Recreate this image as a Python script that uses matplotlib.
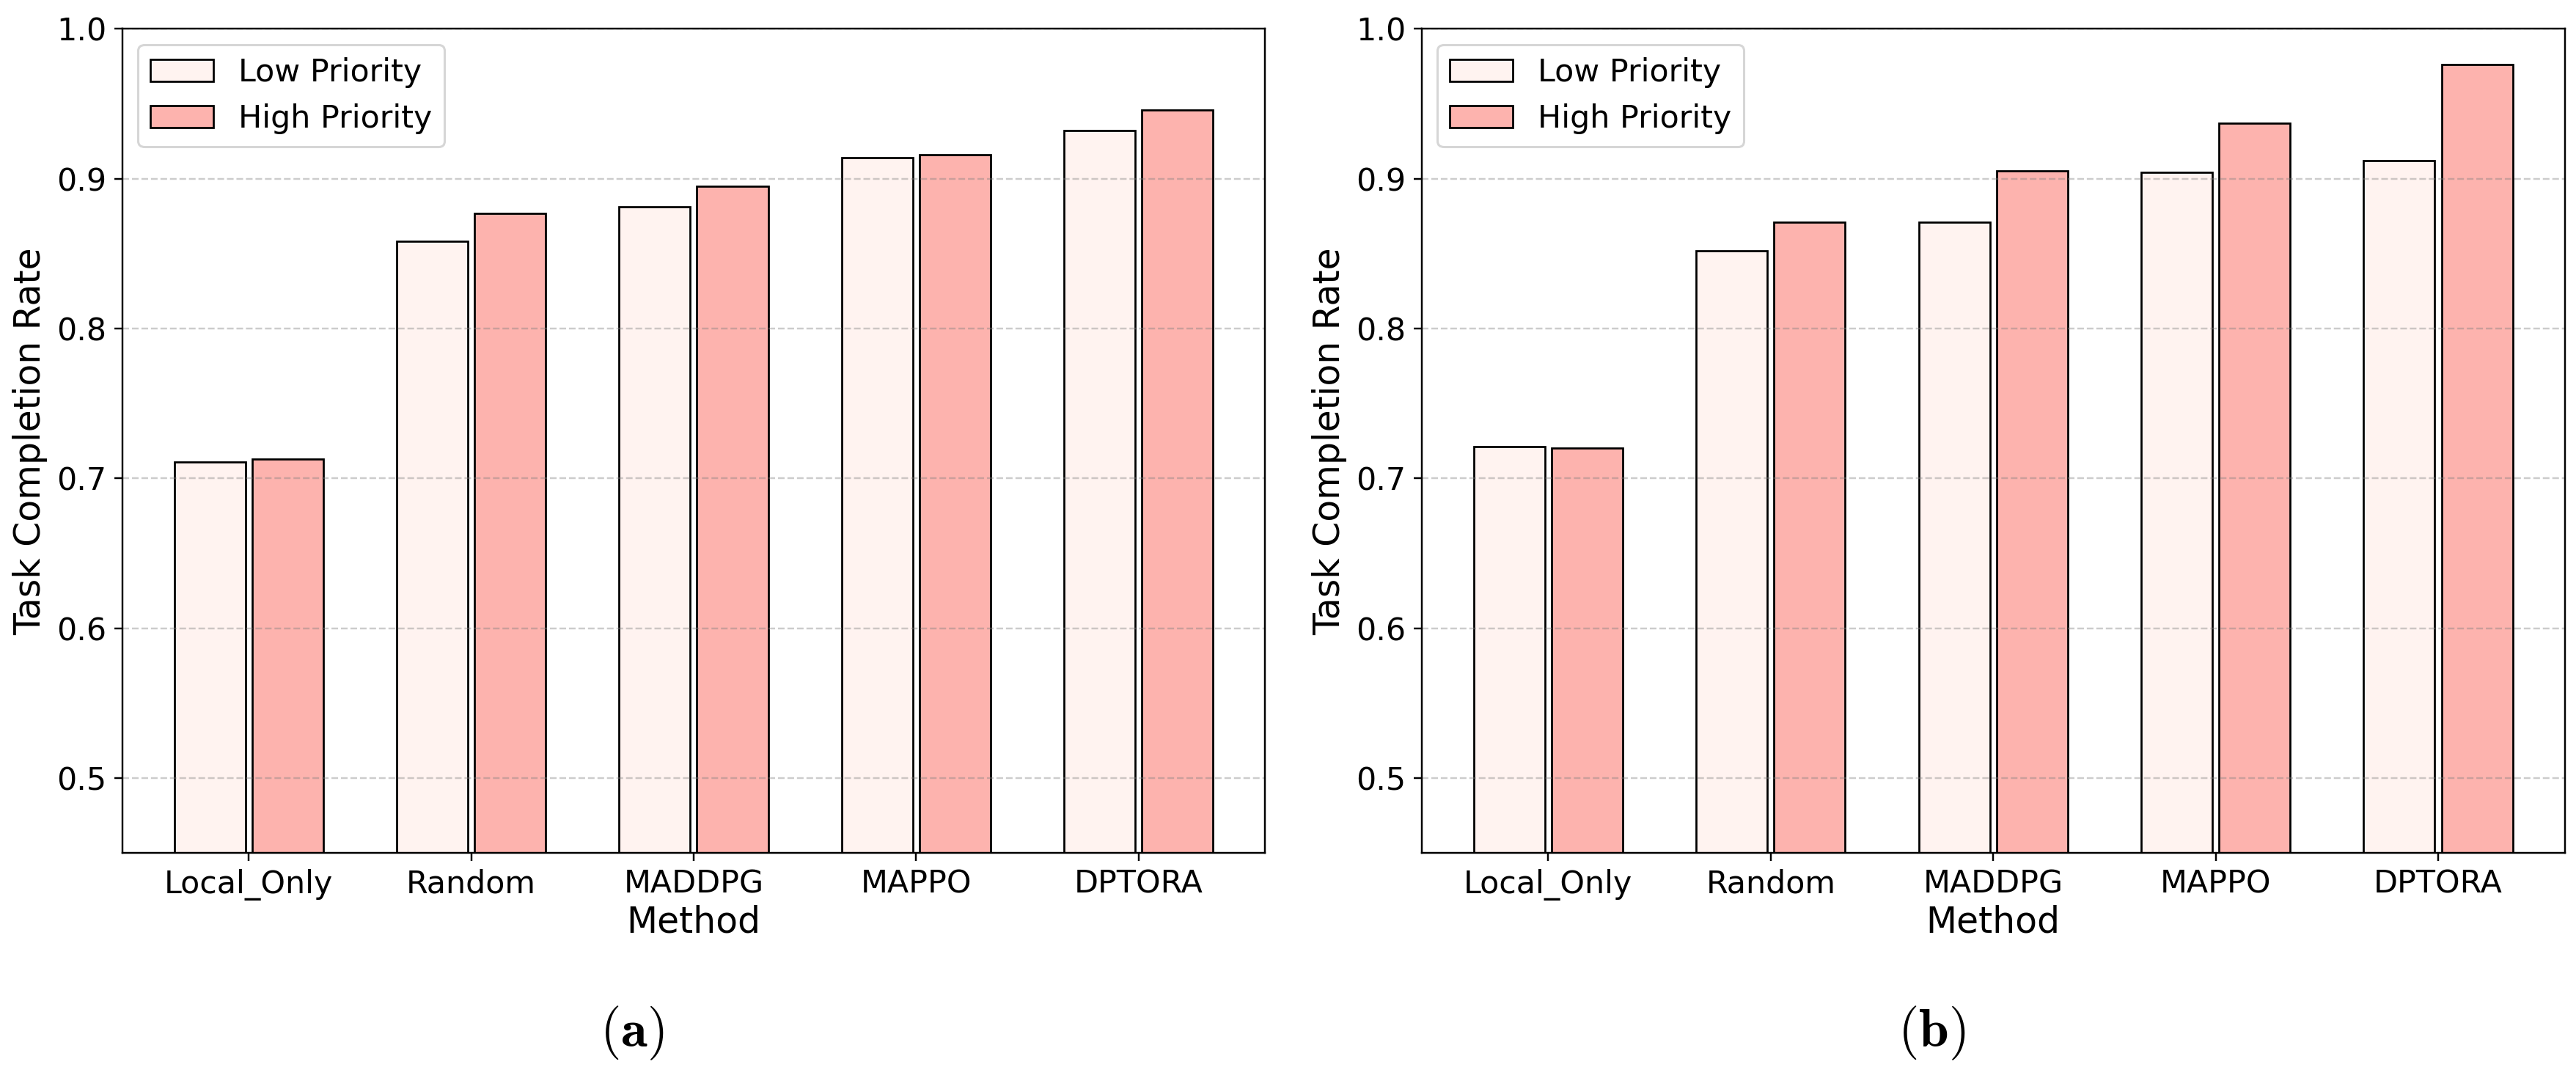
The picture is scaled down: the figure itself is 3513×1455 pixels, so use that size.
import numpy as np
import matplotlib
matplotlib.use("Agg")
import matplotlib.pyplot as plt

# --------------------------
# Data
# --------------------------
methods = ["Local_Only", "Random", "MADDPG", "MAPPO", "DPTORA"]
series_names = ["Low Priority", "High Priority"]

# panel (a)
low_a = [0.711, 0.858, 0.881, 0.914, 0.932]
high_a = [0.713, 0.877, 0.895, 0.916, 0.946]

# panel (b)
low_b = [0.721, 0.852, 0.871, 0.904, 0.912]
high_b = [0.720, 0.871, 0.905, 0.937, 0.976]

captions = ["a", "b"]

LOW_COLOR = "#fff3f0"
HIGH_COLOR = "#fdb3ae"

# --------------------------
# Figure
# --------------------------
fig = plt.figure(figsize=(3513 / 220, 1455 / 220), dpi=220)
ax_a = fig.add_axes([0.04745, 0.2005, 0.4436, 0.7725])
ax_b = fig.add_axes([0.5519, 0.2005, 0.4437, 0.7725])

x = np.arange(len(methods))
width = 0.32
offset = 0.175


def draw_panel(ax, low, high):
    ax.bar(x - offset, low, width, color=LOW_COLOR, edgecolor="black",
           linewidth=0.9, label=series_names[0])
    ax.bar(x + offset, high, width, color=HIGH_COLOR, edgecolor="black",
           linewidth=0.9, label=series_names[1])
    ax.set_ylim(0.45, 1.0)
    ax.set_xticks(x)
    ax.set_xticklabels(methods, fontsize=14)
    ax.tick_params(axis="y", labelsize=14)
    ax.set_xlabel("Method", fontsize=16, labelpad=2)
    ax.set_ylabel("Task Completion Rate", fontsize=16)
    ax.grid(axis="y", linestyle="--", color="gray", alpha=0.4)
    ax.legend(loc="upper left", fontsize=14)


draw_panel(ax_a, low_a, high_a)
draw_panel(ax_b, low_b, high_b)

# subfigure captions
fig.text(0.2454, 0.0192, r"$(\mathbf{%s})$" % captions[0], ha="center",
         va="baseline", fontsize=24, math_fontfamily="cm")
fig.text(0.7498, 0.0192, r"$(\mathbf{%s})$" % captions[1], ha="center",
         va="baseline", fontsize=24, math_fontfamily="cm")

fig.savefig("out.png", dpi=220)
